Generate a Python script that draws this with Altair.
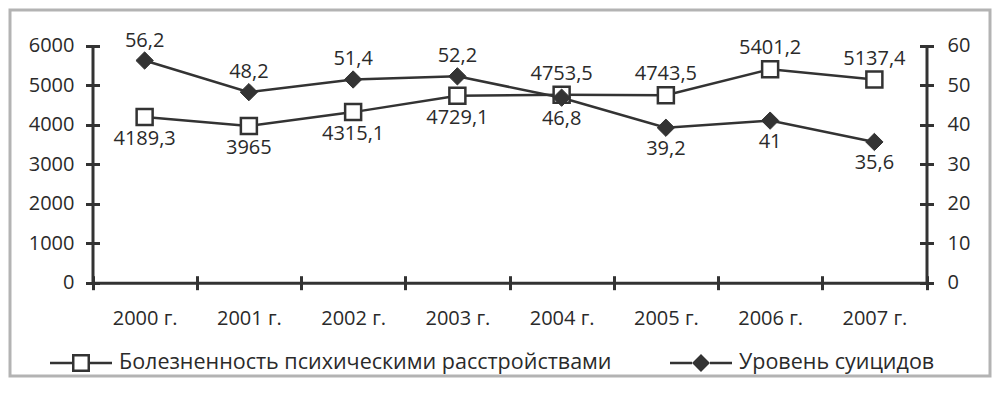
import altair as alt
import pandas as pd

# ---- data ----
years = ["2000 г.", "2001 г.", "2002 г.", "2003 г.", "2004 г.", "2005 г.", "2006 г.", "2007 г."]
morbidity = [4189.3, 3965, 4315.1, 4729.1, 4753.5, 4743.5, 5401.2, 5137.4]
suicide = [56.2, 48.2, 51.4, 52.2, 46.8, 39.2, 41, 35.6]
morbidity_label_side = ["below", "below", "below", "below", "above", "above", "above", "above"]
suicide_label_side = ["above", "above", "above", "above", "below", "below", "below", "below"]
name_m = "Болезненность психическими расстройствами"
name_s = "Уровень суицидов"
left_ticks = [0, 1000, 2000, 3000, 4000, 5000, 6000]
right_ticks = [0, 10, 20, 30, 40, 50, 60]


def fmt(v):
    return f"{v:g}".replace(".", ",")


df_m = pd.DataFrame({"year": years, "value": morbidity,
                     "label": [fmt(v) for v in morbidity], "side": morbidity_label_side})
df_s = pd.DataFrame({"year": years, "value": suicide,
                     "label": [fmt(v) for v in suicide], "side": suicide_label_side})

# ---- layout / style ----
W, H = 980, 366
X0, X1 = 82.5, 916.5
YB, YT = 272.7, 35.5
TK = 7
INK = "#333333"
TXT = "#2a2a2a"
FONT = "Open Sans"
FS = 20


def xenc(axis):
    return alt.X("year:N", sort=years,
                 scale=alt.Scale(domain=years, range=[X0, X1], paddingInner=0, paddingOuter=0),
                 axis=axis)


def yenc(dom, axis):
    return alt.Y("value:Q", scale=alt.Scale(domain=dom, range=[YB, YT], nice=False, zero=True),
                 axis=axis)


x_main = alt.Axis(orient="bottom", offset=YB - H, tickBand="extent", tickSize=TK, tickWidth=3,
                  tickColor=INK, domainColor=INK, domainWidth=3, labelFont=FONT, labelFontSize=FS,
                  labelColor=TXT, labelPadding=19, labelAngle=0, title=None, grid=False)
x_inner = alt.Axis(orient="bottom", offset=YB - H - TK, tickBand="extent", tickSize=TK, tickWidth=3,
                   tickColor=INK, domain=False, labels=False, title=None, grid=False)


def y_axis(orient, offset, values, labels=True, domain=True, pad=12):
    kw = dict(orient=orient, offset=offset, values=values, tickSize=TK, tickWidth=3, tickColor=INK,
              title=None, grid=False, domain=domain, labels=labels, format="d")
    if domain:
        kw.update(domainColor=INK, domainWidth=3)
    if labels:
        kw.update(labelFont=FONT, labelFontSize=FS, labelColor=TXT, labelPadding=pad)
    return alt.Axis(**kw)


m_dom = [0, 6000]
s_dom = [0, 60]

sq_line = alt.Chart(df_m).mark_line(color=INK, strokeWidth=2.5).encode(
    x=xenc(x_main), y=yenc(m_dom, y_axis("left", -X0, left_ticks, pad=11.5)))
sq_point = alt.Chart(df_m).mark_point(shape="square", size=256, filled=True, fill="white",
                                      stroke=INK, strokeWidth=2.5, opacity=1).encode(
    x=xenc(x_inner), y=yenc(m_dom, y_axis("left", -X0 - TK, left_ticks, labels=False, domain=False)))
di_line = alt.Chart(df_s).mark_line(color=INK, strokeWidth=2.5).encode(
    x=xenc(None), y=yenc(s_dom, y_axis("right", X1 - W, right_ticks, pad=13.5)))
di_point = alt.Chart(df_s).mark_point(shape="diamond", size=300, filled=True, fill=INK,
                                      stroke=INK, strokeWidth=1, opacity=1).encode(
    x=xenc(None), y=yenc(s_dom, y_axis("right", X1 - W - TK, right_ticks, labels=False, domain=False)))


def labels(df, dom, side, dy):
    return alt.Chart(df).transform_filter(alt.datum.side == side).mark_text(
        font=FONT, fontSize=FS, color=TXT, dy=dy, baseline="middle", align="center").encode(
        x=xenc(None), y=yenc(dom, None), text="label:N")


sq_up = labels(df_m, m_dom, "above", -21)
sq_dn = labels(df_m, m_dom, "below", 22)
di_up = labels(df_s, s_dom, "above", -20)
di_dn = labels(df_s, s_dom, "below", 21)

# legend glyphs drawn as filled outlines: line stubs + marker (unit box [-1, 1])
STUBS = "M-1,-0.04H-0.29V0.04H-1ZM0.29,-0.04H1V0.04H0.29Z"
SQ_PATH = STUBS + "M-0.29,-0.29H0.29V0.29H-0.29ZM-0.21,-0.21V0.21H0.21V-0.21Z"
DI_PATH = STUBS + "M-0.29,0L0,-0.29L0.29,0L0,0.29Z"


def legend_layer(name, path, lx):
    return alt.Chart(pd.DataFrame({"s": [name]})).transform_filter("false").mark_point(
        filled=True, fill=INK, strokeWidth=0, opacity=1).encode(
        shape=alt.Shape("s:N", scale=alt.Scale(domain=[name], range=[path]),
                        legend=alt.Legend(orient="none", legendX=lx, legendY=321, title=None,
                                          symbolSize=3844, symbolFillColor=INK,
                                          symbolOpacity=1, labelOffset=6, padding=0,
                                          labelFont=FONT, labelFontSize=21.5, labelColor=TXT,
                                          labelLimit=0)))


leg_m = legend_layer(name_m, SQ_PATH, 39)
leg_s = legend_layer(name_s, DI_PATH, 659)

chart = alt.layer(sq_line, di_line, sq_point, di_point, sq_up, sq_dn, di_up, di_dn, leg_m, leg_s).resolve_scale(
    x="independent", y="independent", shape="independent"
).properties(
    width=W, height=H, padding=2, autosize=alt.AutoSizeParams(type="none"), background="white"
).configure_view(stroke="#b3b3b3", strokeWidth=3)

chart.save("out.html", embed_options={"renderer": "svg", "actions": False})
